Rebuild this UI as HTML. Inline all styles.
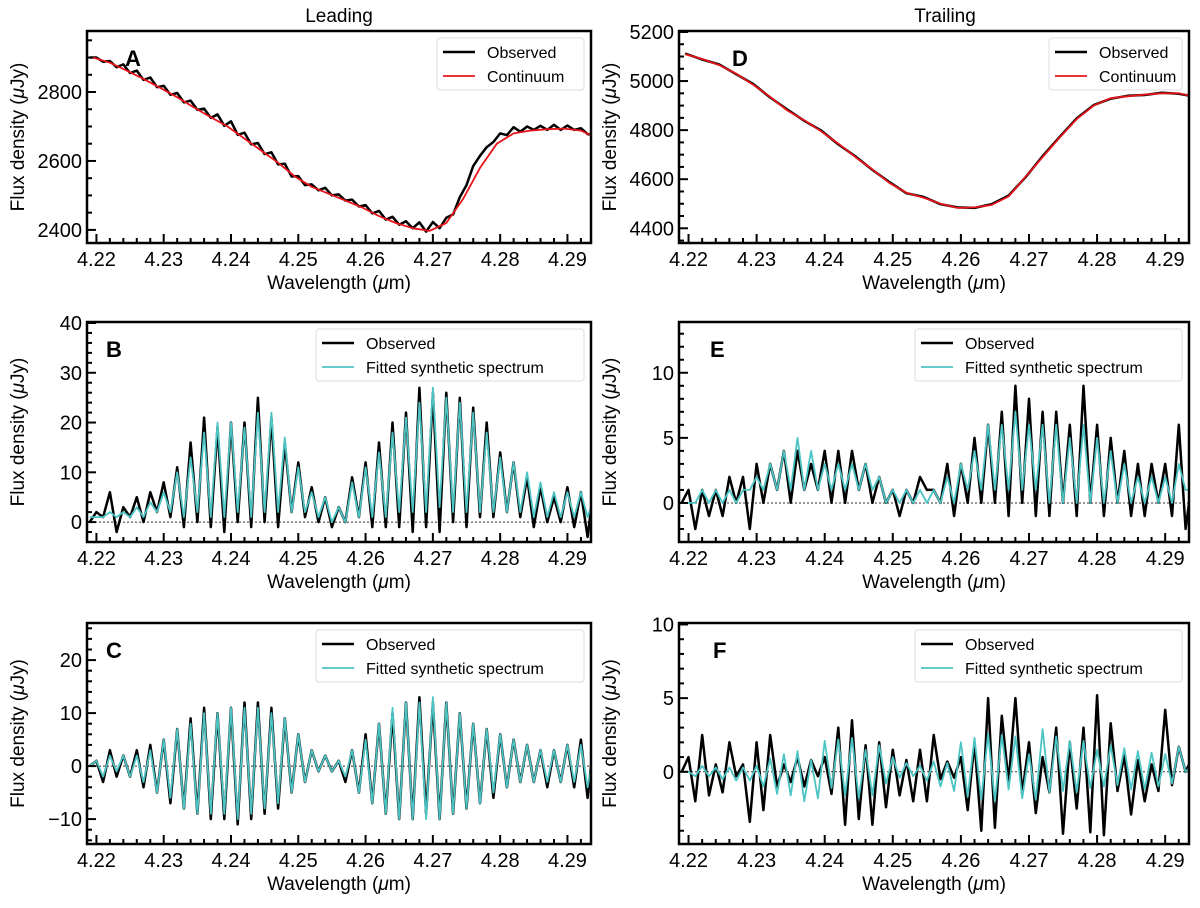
<!DOCTYPE html>
<html><head><meta charset="utf-8"><style>
body{margin:0;background:#fff;}
svg text{font-family:"Liberation Sans","DejaVu Sans",sans-serif;}
</style></head><body>
<svg id="fig" width="1200" height="903" xmlns="http://www.w3.org/2000/svg"></svg>
<script>
// ---- data ----
const xStart = 4.219;      // first trough wavelength
const xStep = 0.001;       // half-period spacing
const aContX = 4.2195, aContStep = 0.0025;
const aContinuum = [2900,2885,2862,2838,2812,2785,2755,2727,2700,2665,2630,2595,2555,2525,2505,2485,2465,2440,2420,2405,2397,2420,2490,2580,2650,2680,2688,2692,2694,2688,2665];
const aObsPeaks = [2900,2890,2880,2862,2842,2818,2797,2775,2752,2735,2715,2682,2652,2625,2592,2556,2532,2522,2503,2488,2472,2455,2438,2425,2422,2423,2435,2495,2585,2640,2680,2698,2700,2702,2705,2703,2695,2675];
const aObsTroughs = [2900,2888,2872,2855,2835,2814,2792,2770,2748,2725,2702,2676,2648,2620,2590,2555,2530,2515,2500,2485,2468,2448,2430,2415,2405,2395,2405,2445,2530,2615,2655,2675,2685,2690,2690,2690,2690,2678];
const dContinuum = [5110,5090,5065,5030,4985,4935,4880,4840,4795,4745,4690,4640,4585,4545,4525,4500,4483,4485,4495,4530,4610,4690,4770,4845,4900,4930,4938,4945,4950,4950,4935];
const dObserved = [5112,5088,5068,5028,4988,4933,4884,4838,4798,4742,4693,4638,4588,4543,4528,4498,4485,4483,4498,4533,4608,4694,4772,4848,4902,4928,4940,4943,4952,4948,4936];
const bObsPeaks = [2,6,3,5,6,8,11,16,21,19,20,20,25,21,16,12,7,5,3,9,12,16,20,22,27,26,26,25,23,20,14,12,9,7,5,7,6,8];
const bObsTroughs = [0,1,-2,1,0,2,1,-1,0,-1,-2,0,-1,0,-1,2,1,0,-1,0,1,-1,-1,-1,-2,-1,-2,0,-1,1,1,2,1,-1,0,0,-1,-3];
const bFitPeaks = [1,2,2,3,4,6,10,13,18,20,20,19,22,22,17,11,6,5,3,8,11,14,18,21,24,27,25,24,22,18,13,12,10,8,6,6,6,5];
const bFitTroughs = [1,1,1,1,1,2,2,1,2,1,1,2,1,2,2,2,2,1,0,0,1,1,1,2,2,2,3,2,2,2,2,2,2,1,1,1,1,1];
const cObsPeaks = [1,3,2,3,4,5,7,9,11,10,11,12,12,11,9,6,3,2,1,3,6,8,10,12,13,12,12,10,8,7,6,5,4,3,3,4,5,6];
const cObsTroughs = [0,-3,-2,-2,-4,-5,-7,-8,-9,-10,-10,-11,-10,-9,-8,-5,-3,-1,-1,-3,-5,-7,-9,-10,-10,-9,-10,-9,-8,-7,-6,-4,-3,-3,-4,-3,-4,-6];
const cFitPeaks = [1,2,2,2,3,5,7,8,10,10,11,11,11,10,9,6,3,2,1,3,5,8,11,12,12,13,12,10,8,7,6,5,4,3,3,4,4,3];
const cFitTroughs = [0,-2,-1,-2,-3,-5,-6,-8,-9,-9,-9,-10,-9,-8,-7,-5,-3,-1,-1,-2,-5,-7,-9,-10,-10,-10,-10,-9,-8,-7,-5,-4,-3,-3,-3,-3,-3,-4];
const eObsPeaks = [1,1,1,2,2,3,3,4,4,3,4,4,4,3,2,1,1,2,1,3,3,5,6,7,9,8,7,7,6,9,6,5,4,3,3,3,6,2];
const eObsTroughs = [0,-2,-1,-1,0,-2,0,1,0,1,1,0,0,1,0,0,-1,0,1,0,-1,0,0,0,-1,0,-1,-1,0,-1,0,-1,0,-1,-1,0,-1,-2];
const eFitPeaks = [0,1,1,1,1,2,3,4,5,4,3,3,3,3,2,1,1,1,1,2,3,4,6,6,7,6,6,6,5,6,5,4,3,2,2,2,3,1];
const eFitTroughs = [0,0,0,0,0,1,1,1,1,1,1,1,1,1,1,0,0,0,0,0,0,1,1,1,1,1,1,0,0,0,0,0,0,0,0,0,0,1];
const fObsPeaks = [1,2.5,0.5,2,0.5,2,2.5,0.5,1,0.8,1,3,3.5,1.8,2,1.5,0.8,1.5,2.5,0.7,1,2,5,3.8,5,2,1,3,2,3,5.2,3.3,1.1,0.8,0.5,4.2,1.7,1];
const fObsTroughs = [0,-2,-1.6,-1.4,-0.3,-3.4,-2.6,-1,-0.7,-1,-0.3,-1.5,-3.6,-3.2,-3.6,-2.4,-1.6,-2,-2,-0.5,-0.4,-2.6,-4,-3.8,-0.7,-1.5,-2.8,-1.4,-4.2,-2.5,-4.1,-4.3,-1.3,-2.9,-2,-1.3,-0.9,0];
const fFitPeaks = [0,0.4,0.3,0.3,0.3,0.4,0.9,1.2,1.4,0.8,2.1,2.2,2.3,1.5,1.8,1,0.6,0.4,0.7,0.6,2,2.3,2.6,2.5,2.4,1.2,2.9,2.4,2.1,2.1,1.5,1.8,1.6,1.4,1.3,1.2,1.7,0.5];
const fFitTroughs = [0,-0.3,-0.3,-0.5,-0.6,-0.6,-1,-1.5,-1.6,-2,-1.8,-1.1,-1.6,-1.8,-1.6,-0.8,-0.4,-0.3,-0.6,-1,-1.3,-1.7,-1.9,-2,-1.2,-1.8,-1.9,-1.4,-1.3,-1.4,-1.1,-1,-0.9,-1.2,-1.2,-1,-0.8,0];
const xTicks = [4.22,4.23,4.24,4.25,4.26,4.27,4.28,4.29];

// ---- drawing ----
const NS = "http://www.w3.org/2000/svg";
const svg = document.getElementById('fig');
function mk(tag, attrs, parent){
  const e = document.createElementNS(NS, tag);
  for (const k in attrs) e.setAttribute(k, attrs[k]);
  (parent||svg).appendChild(e);
  return e;
}
const XMIN = 4.2186, XMAX = 4.2935;
const cyan = "#4cc4c4";

function altSeries(troughs, peaks){
  const xs=[], ys=[];
  for (let k=0;k<peaks.length;k++){
    xs.push(xStart + 2*k*xStep); ys.push(troughs[k]);
    xs.push(xStart + (2*k+1)*xStep); ys.push(peaks[k]);
  }
  return {xs, ys};
}
function gridSeries(x0, step, vals){
  return {xs: vals.map((v,i)=>x0+i*step), ys: vals};
}

function panel(cfg){
  const g = mk('g', {});
  
  
  const {x0,x1,y0,y1,ymin,ymax} = cfg;
  const sx = v => x0 + (v-XMIN)/(XMAX-XMIN)*(x1-x0);
  const sy = v => y1 - (v-ymin)/(ymax-ymin)*(y1-y0);
  const clipId = 'clip'+cfg.letter;
  const cp = mk('clipPath', {id: clipId}, g);
  mk('rect', {x:x0, y:y0, width:x1-x0, height:y1-y0}, cp);
  if (cfg.zero) {
    const z = mk('line', {x1:x0, x2:x1, y1:sy(0), y2:sy(0), stroke:'#333', 'stroke-width':1, 'stroke-dasharray':'2,2'}, g);
    
    
  }
  cfg.series.forEach(s=>{
    const pts = s.data.xs.map((x,i)=>sx(x).toFixed(1)+','+sy(s.data.ys[i]).toFixed(1)).join(' ');
    const p = mk('polyline', {points:pts, fill:'none', stroke:s.color, 'stroke-width':s.w, 'stroke-linejoin':'round', 'clip-path':'url(#'+clipId+')'}, g);
    
    
  });
  for (let v=4.220; v<=XMAX; v+=0.002){
    const major = Math.abs(Math.round(v*100)-v*100) < 1e-6;
    mk('line', {x1:sx(v), x2:sx(v), y1:y1, y2:y1-(major?9:5), stroke:'#000', 'stroke-width':2}, g);
  }
  xTicks.forEach(v=>{
    const t = mk('text', {x:sx(v), y:y1+23, 'font-size':20, 'text-anchor':'middle'}, g);
    t.textContent = v.toFixed(2);
    
    
  });
  for (let v=Math.ceil(ymin/cfg.minor)*cfg.minor; v<=ymax+1e-9; v+=cfg.minor){
    const major = Math.abs(v/cfg.major - Math.round(v/cfg.major)) < 1e-6;
    mk('line', {x1:x0, x2:x0+(major?9:5), y1:sy(v), y2:sy(v), stroke:'#000', 'stroke-width':2}, g);
    if (major){
      const t = mk('text', {x:x0-5, y:sy(v)+7, 'font-size':20, 'text-anchor':'end'}, g);
      t.textContent = String(Math.round(v)).replace('-', '\u2212');
      
      
    }
  }
  const fr = mk('rect', {x:x0, y:y0, width:x1-x0, height:y1-y0, fill:'none', stroke:'#000', 'stroke-width':2.5}, g);
  
  
  const xl = mk('text', {x:(x0+x1)/2, y:y1+46, 'font-size':19, 'text-anchor':'middle'}, g);
  xl.innerHTML = 'Wavelength (<tspan font-style="italic">μ</tspan>m)';
  
  
  const yl = mk('text', {x:0, y:0, 'font-size':19, 'text-anchor':'middle', transform:'translate('+(x0-63)+','+((y0+y1)/2)+') rotate(-90)'}, g);
  yl.innerHTML = 'Flux density (<tspan font-style="italic">μ</tspan>Jy)';
  
  
  const lt = mk('text', {x:cfg.lx, y:y0+35, 'font-size':22, 'font-weight':'bold'}, g);
  lt.textContent = cfg.letter;
  
  
  const lg = mk('g', {}, g);
  
  
  mk('rect', {x:cfg.legX, y:y0+7, width:x1-7-cfg.legX, height:52, rx:3, fill:'#fff', stroke:'#ddd', 'stroke-width':1}, lg);
  cfg.series.forEach((s,i)=>{
    const yy = y0+21+i*24;
    mk('line', {x1:cfg.legX+6, x2:cfg.legX+38, y1:yy, y2:yy, stroke:s.color, 'stroke-width':s.w}, lg);
    const t = mk('text', {x:cfg.legX+50, y:yy+6, 'font-size':16}, lg);
    t.textContent = s.label;
    
    
  });
}

const L = {x0:87, x1:591}, R = {x0:679, x1:1189};
const r1 = {y0:31, y1:243}, r2 = {y0:322, y1:542}, r3 = {y0:623, y1:844};

panel(Object.assign({letter:'A', ymin:2362, ymax:2977, major:200, minor:50, lx:125, legX:437,
  series:[{name:'observed-line', label:'Observed', color:'#000', w:2.5, data:altSeries(aObsTroughs,aObsPeaks)},
          {name:'continuum-line', label:'Continuum', color:'#e8141a', w:1.8, data:gridSeries(aContX,aContStep,aContinuum)}]}, L, r1));
panel(Object.assign({letter:'D', ymin:4340, ymax:5204, major:200, minor:50, lx:732, legX:1049,
  series:[{name:'observed-line', label:'Observed', color:'#000', w:2.5, data:gridSeries(aContX,aContStep,dObserved)},
          {name:'continuum-line', label:'Continuum', color:'#e8141a', w:1.8, data:gridSeries(aContX,aContStep,dContinuum)}]}, R, r1));
panel(Object.assign({letter:'B', ymin:-4, ymax:40.2, major:10, minor:2, lx:106, legX:316, zero:true,
  series:[{name:'observed-line', label:'Observed', color:'#000', w:2.5, data:altSeries(bObsTroughs,bObsPeaks)},
          {name:'fitted-line', label:'Fitted synthetic spectrum', color:cyan, w:1.8, data:altSeries(bFitTroughs,bFitPeaks)}]}, L, r2));
panel(Object.assign({letter:'E', ymin:-3, ymax:13.9, major:5, minor:1, lx:710, legX:915, zero:true,
  series:[{name:'observed-line', label:'Observed', color:'#000', w:2.5, data:altSeries(eObsTroughs,eObsPeaks)},
          {name:'fitted-line', label:'Fitted synthetic spectrum', color:cyan, w:1.8, data:altSeries(eFitTroughs,eFitPeaks)}]}, R, r2));
panel(Object.assign({letter:'C', ymin:-14.7, ymax:27, major:10, minor:2, lx:106, legX:316, zero:true,
  series:[{name:'observed-line', label:'Observed', color:'#000', w:2.5, data:altSeries(cObsTroughs,cObsPeaks)},
          {name:'fitted-line', label:'Fitted synthetic spectrum', color:cyan, w:1.8, data:altSeries(cFitTroughs,cFitPeaks)}]}, L, r3));
panel(Object.assign({letter:'F', ymin:-4.9, ymax:10.1, major:5, minor:1, lx:713, legX:915, zero:true,
  series:[{name:'observed-line', label:'Observed', color:'#000', w:2.5, data:altSeries(fObsTroughs,fObsPeaks)},
          {name:'fitted-line', label:'Fitted synthetic spectrum', color:cyan, w:1.8, data:altSeries(fFitTroughs,fFitPeaks)}]}, R, r3));

const t1 = mk('text', {x:339, y:22, 'font-size':19, 'text-anchor':'middle'});
t1.textContent = 'Leading';


const t2 = mk('text', {x:945, y:22, 'font-size':19, 'text-anchor':'middle'});
t2.textContent = 'Trailing';


</script>
</body></html>
